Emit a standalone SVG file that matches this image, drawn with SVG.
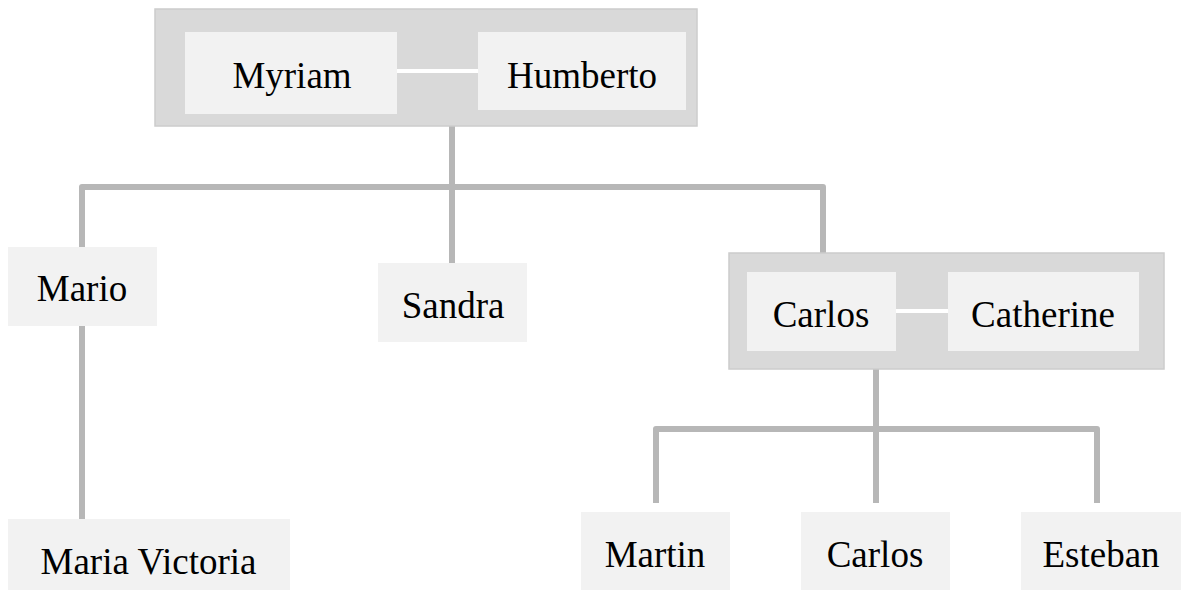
<svg xmlns="http://www.w3.org/2000/svg" width="1181" height="590" viewBox="0 0 1181 590">
<style>
.couple{fill:#d9d9d9;stroke:#cccccc;stroke-width:1.5}
.box{fill:#f2f2f2}
.lbl{font-family:'Liberation Serif','Times New Roman','DejaVu Serif',serif;font-size:37px;fill:#000;text-anchor:middle}
.conn{fill:none;stroke:#b7b7b7;stroke-width:6;stroke-linejoin:round}
.spouse{stroke:#ffffff;stroke-width:4}
</style>
<rect width="1181" height="590" fill="#ffffff"/>
<g id="connectors">
<path class="conn" d="M452,126 V187"/>
<path class="conn" d="M82,247 V187 H823 V272"/>
<path class="conn" d="M452,187 V263"/>
<path class="conn" d="M82,326 V519"/>
<path class="conn" d="M876,353 V429"/>
<path class="conn" d="M656,503 V429 H1097 V503"/>
<path class="conn" d="M876,429 V503"/>
</g>
<g id="couple-myriam-humberto">
<rect class="couple" x="155" y="9" width="542" height="117"/>
<line class="spouse" x1="397" y1="71" x2="478" y2="71"/>
</g>
<g id="node-myriam">
<rect class="box" x="185" y="32" width="212" height="82"/>
<text class="lbl" x="292" y="88">Myriam</text>
</g>
<g id="node-humberto">
<rect class="box" x="478" y="32" width="208" height="78"/>
<text class="lbl" x="582" y="88">Humberto</text>
</g>
<g id="node-mario">
<rect class="box" x="8" y="247" width="149" height="79"/>
<text class="lbl" x="82" y="301">Mario</text>
</g>
<g id="node-sandra">
<rect class="box" x="378" y="263" width="149" height="79"/>
<text class="lbl" x="453" y="318">Sandra</text>
</g>
<g id="couple-carlos-catherine">
<rect class="couple" x="729" y="253" width="435" height="116"/>
<line class="spouse" x1="896" y1="311" x2="948" y2="311"/>
</g>
<g id="node-carlos">
<rect class="box" x="747" y="272" width="149" height="79"/>
<text class="lbl" x="821" y="327">Carlos</text>
</g>
<g id="node-catherine">
<rect class="box" x="948" y="272" width="191" height="79"/>
<text class="lbl" x="1043" y="327">Catherine</text>
</g>
<g id="node-maria-victoria">
<rect class="box" x="8" y="519" width="282" height="79"/>
<text class="lbl" x="148.5" y="574">Maria Victoria</text>
</g>
<g id="node-martin">
<rect class="box" x="581" y="512" width="149" height="79"/>
<text class="lbl" x="655" y="567">Martin</text>
</g>
<g id="node-carlos-jr">
<rect class="box" x="801" y="512" width="149" height="79"/>
<text class="lbl" x="875" y="567">Carlos</text>
</g>
<g id="node-esteban">
<rect class="box" x="1021" y="512" width="160" height="79"/>
<text class="lbl" x="1101" y="567">Esteban</text>
</g>
</svg>
